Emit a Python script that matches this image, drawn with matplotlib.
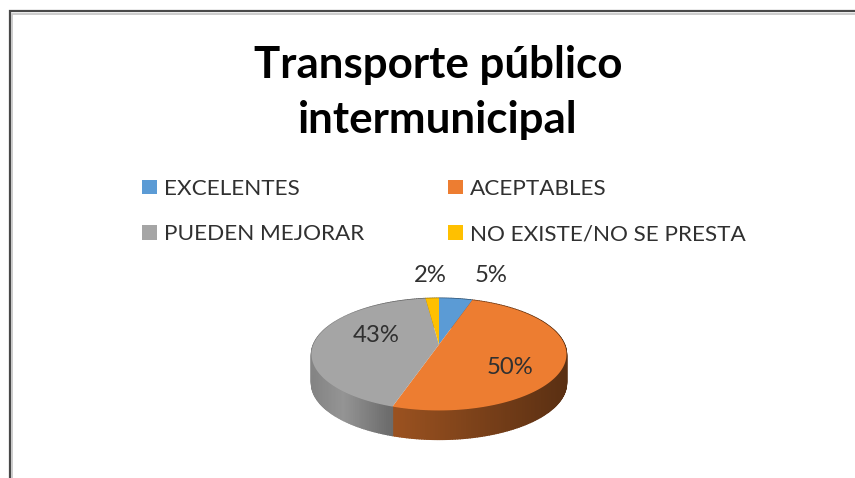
import numpy as np
import matplotlib
matplotlib.use("Agg")
import matplotlib.pyplot as plt
from matplotlib.patches import Patch

title = "Transporte público\nintermunicipal"
categories = ["EXCELENTES", "ACEPTABLES", "PUEDEN MEJORAR", "NO EXISTE/NO SE PRESTA"]
values = [5, 50, 43, 2]
colors = ["#5B9BD5", "#ED7D31", "#A5A5A5", "#FFC000"]

plt.rcParams["font.family"] = ["Lato", "DejaVu Sans"]
fig = plt.figure(figsize=(8.55, 4.78), dpi=100, facecolor="white")
ax = fig.add_axes([0, 0, 1, 1])
ax.set_xlim(0, 855)
ax.set_ylim(478, 0)
ax.axis("off")

# window frame
ax.plot([9.5, 9.5, 855], [478, 11, 11], color="#484848", lw=1.6, solid_joinstyle="miter")
ax.plot([12, 12, 855], [478, 13.5, 13.5], color="#C4C4C4", lw=1.2, solid_joinstyle="miter")

# perspective projection of the 3D pie
CX, CY, A, B, K, DEPTH = 439, 344.5, 54.4, 125.5, 0.175, 29


def project(theta):
    x, y = np.sin(theta), np.cos(theta)
    d = 1 + K * y
    return CX + B * x / d, CY - A * y / d


fractions = np.array(values, dtype=float) / np.sum(values)
ends = np.cumsum(fractions) * 2 * np.pi
starts = ends - fractions * 2 * np.pi
XL, XR = 312.0, 566.0

# side wall
for start, end, col in zip(starts, ends, colors):
    th = np.linspace(start, end, max(3, int((end - start) * 60)))
    px, py = project(th)
    base = np.array(matplotlib.colors.to_rgb(col))
    for i in range(len(th) - 1):
        t = (0.5 * (px[i] + px[i + 1]) - XL) / (XR - XL)
        shade = np.interp(t, [0, 0.12, 0.3, 1], [0.80, 0.90, 0.66, 0.38])
        ax.fill([px[i], px[i + 1], px[i + 1], px[i]],
                [py[i], py[i + 1], py[i + 1] + DEPTH, py[i] + DEPTH],
                facecolor=base * shade, edgecolor=base * shade, lw=1.0, zorder=2)

# top face
for start, end, col in zip(starts, ends, colors):
    th = np.linspace(start, end, 120)
    px, py = project(th)
    ax.fill(np.r_[CX, px], np.r_[CY, py], color=col, lw=0, zorder=3)

# data labels
label_pos = [(491, 275.5), (510, 367), (376, 336), (430, 275.5)]
for v, (lx, ly) in zip(values, label_pos):
    ax.text(lx, ly, f"{v}%", ha="center", va="center", fontsize=17.2, color="#303030", zorder=4)

ax.text(438, 92.5, title, ha="center", va="center", fontsize=31.6, fontweight="bold",
        color="black", linespacing=1.46)

order = [0, 2, 1, 3]
handles = [Patch(facecolor=colors[i], edgecolor="none", label=categories[i]) for i in order]
ax.legend(handles=handles, ncol=2, loc="upper left", bbox_to_anchor=(142 / 855, 1 - 179 / 478),
          frameon=False, fontsize=16.2, handlelength=0.67, handleheight=0.62, handletextpad=0.31,
          columnspacing=3.73, labelspacing=1.12, borderpad=0, borderaxespad=0, labelcolor="#303030")

fig.savefig("out.png", dpi=100, facecolor="white")
